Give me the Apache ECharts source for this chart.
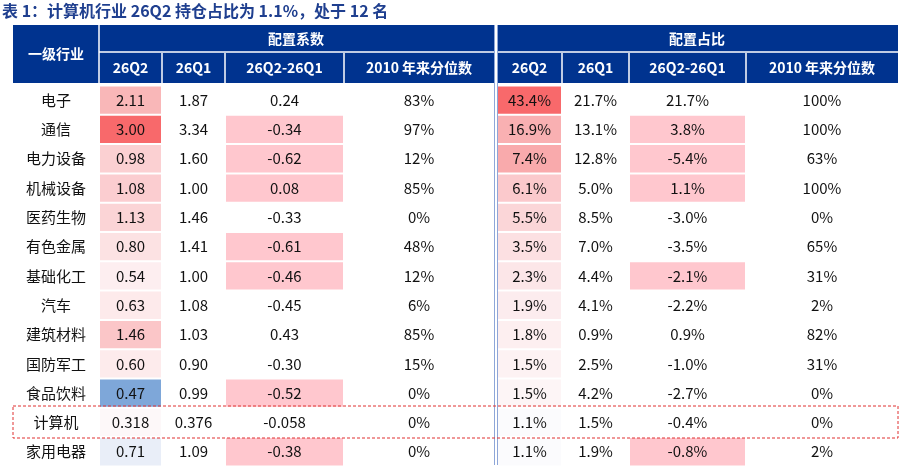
<!DOCTYPE html>
<html><head><meta charset="utf-8">
<script src="https://cdn.jsdelivr.net/npm/echarts@6/dist/echarts.min.js"></script>
<style>html,body{margin:0;padding:0;background:#fff}#main{width:907px;height:469px}</style>
</head><body><div id="main"></div>
<script>
// 数据
var industries = ['电子','通信','电力设备','机械设备','医药生物','有色金属','基础化工','汽车','建筑材料','国防军工','食品饮料','计算机','家用电器'];
var coef26Q2 = ['2.11','3.00','0.98','1.08','1.13','0.80','0.54','0.63','1.46','0.60','0.47','0.318','0.71'];
var coef26Q1 = ['1.87','3.34','1.60','1.00','1.46','1.41','1.00','1.08','1.03','0.90','0.99','0.376','1.09'];
var coefDiff = ['0.24','-0.34','-0.62','0.08','-0.33','-0.61','-0.46','-0.45','0.43','-0.30','-0.52','-0.058','-0.38'];
var coefRank = ['83%','97%','12%','85%','0%','48%','12%','6%','85%','15%','0%','0%','0%'];
var share26Q2 = ['43.4%','16.9%','7.4%','6.1%','5.5%','3.5%','2.3%','1.9%','1.8%','1.5%','1.5%','1.1%','1.1%'];
var share26Q1 = ['21.7%','13.1%','12.8%','5.0%','8.5%','7.0%','4.4%','4.1%','0.9%','2.5%','4.2%','1.5%','1.9%'];
var shareDiff = ['21.7%','3.8%','-5.4%','1.1%','-3.0%','-3.5%','-2.1%','-2.2%','0.9%','-1.0%','-2.7%','-0.4%','-0.8%'];
var shareRank = ['100%','100%','63%','100%','0%','65%','31%','2%','82%','31%','0%','0%','2%'];
var subHeaders = ['26Q2','26Q1','26Q2-26Q1','2010 年来分位数'];

// 样式（单元格底色）
var coef26Q2Fill = ['#f9b7b8','#f8696b','#fbd0d2','#fbcdd0','#fbd4d6','#fce2e3','#fdeef0','#fdeaeb','#fbc6c8','#fdebec','#7ea7d9','#fdf8f9','#e9eef8'];
var share26Q2Fill = ['#f8696b','#f9b0b2','#f9aaac','#fbc9cc','#fbd6d8','#fce0e2','#fce6e8','#fcecee','#fdeff0','#fdf2f3','#fdf5f6','#fbfbfd','#fbfbfd'];
var coefDiffHl = [0,1,1,1,0,1,1,0,0,0,1,0,1];
var shareDiffHl = [0,1,1,1,0,0,1,0,0,0,0,0,1];

var edges = [13,99,162,225,344,494,497,562,629,746,898];
var colIdx = [1,2,3,4,6,7,8,9];
var top0 = 85.5, rowH = 29.3;

var cells = [];
industries.forEach(function(n, i){
  var vals = [coef26Q2[i],coef26Q1[i],coefDiff[i],coefRank[i],share26Q2[i],share26Q1[i],shareDiff[i],shareRank[i]];
  var fills = [coef26Q2Fill[i], null, coefDiffHl[i] ? '#ffc7ce' : null, null,
               share26Q2Fill[i], null, shareDiffHl[i] ? '#ffc7ce' : null, null];
  cells.push({value:[edges[0], i, edges[1]], label:n, fill:null});
  vals.forEach(function(v, k){
    var c = colIdx[k];
    cells.push({value:[edges[c], i, edges[c+1]], label:v, fill:fills[k]});
  });
});

var font = '"Noto Sans CJK SC", "Noto Sans", sans-serif';
var dom = document.getElementById('main');
var myChart = echarts.init(dom);
var option = {
  animation:false,
  grid:{left:0,top:0,right:0,bottom:0},
  xAxis:{type:'value',min:0,max:907,show:false},
  yAxis:{type:'value',min:0,max:469,inverse:true,show:false},
  graphic:[
    {type:'text',left:2,top:3,style:{text:'表 1：计算机行业 26Q2 持仓占比为 1.1%，处于 12 名',fill:'#1f3f8f',font:'bold 16px '+font}},
    {type:'rect',shape:{x:13,y:25,width:885,height:58},style:{fill:'#00338f'}},
    {type:'line',shape:{x1:99,y1:52,x2:898,y2:52},style:{stroke:'#fff',lineWidth:1.5}},
    {type:'rect',shape:{x:494,y:25,width:3,height:440},style:{fill:'#fff'}},
    {type:'line',shape:{x1:494.5,y1:25,x2:494.5,y2:465},style:{stroke:'#8ea6d8',lineWidth:1}},
    {type:'line',shape:{x1:497.5,y1:25,x2:497.5,y2:465},style:{stroke:'#8ea6d8',lineWidth:1}},
    {type:'line',shape:{x1:99,y1:25,x2:99,y2:83},style:{stroke:'#fff',lineWidth:1.5}},
    {type:'text',x:56,y:54,style:{text:'一级行业',fill:'#fff',font:'bold 14px '+font,align:'center',verticalAlign:'middle'}},
    {type:'text',x:296,y:39,style:{text:'配置系数',fill:'#fff',font:'bold 14px '+font,align:'center',verticalAlign:'middle'}},
    {type:'text',x:697,y:39,style:{text:'配置占比',fill:'#fff',font:'bold 14px '+font,align:'center',verticalAlign:'middle'}}
  ].concat(colIdx.reduce(function(a, c, k){
    a.push({type:'text',x:(edges[c]+edges[c+1])/2,y:68,style:{text:subHeaders[k%4],fill:'#fff',font:'bold 14px '+font,align:'center',verticalAlign:'middle'}});
    if (c !== 1 && c !== 6) a.push({type:'line',shape:{x1:edges[c],y1:53,x2:edges[c],y2:83},style:{stroke:'#fff',lineWidth:1.5}});
    return a;
  }, [])).concat([
    {type:'rect',z:100,shape:{x:13,y:406,width:885,height:32},style:{fill:'none',stroke:'#e03030',lineWidth:1,lineDash:[3,2]}}
  ]),
  series:[{
    type:'custom',
    data:cells,
    renderItem:function(params, api){
      var x0 = api.value(0), r = api.value(1), x1 = api.value(2);
      var p0 = api.coord([x0, top0 + r*rowH]);
      var p1 = api.coord([x1, top0 + (r+1)*rowH]);
      var d = cells[params.dataIndex];
      var ch = [];
      if (d.fill) ch.push({type:'rect',shape:{x:p0[0]+1,y:p0[1]+1,width:p1[0]-p0[0]-2,height:p1[1]-p0[1]-2},style:{fill:d.fill}});
      ch.push({type:'text',x:(p0[0]+p1[0])/2,y:(p0[1]+p1[1])/2,style:{text:d.label,fill:'#111',font:'15px '+font,align:'center',verticalAlign:'middle'}});
      return {type:'group',children:ch};
    }
  }]
};
myChart.setOption(option, true);
</script></body></html>
